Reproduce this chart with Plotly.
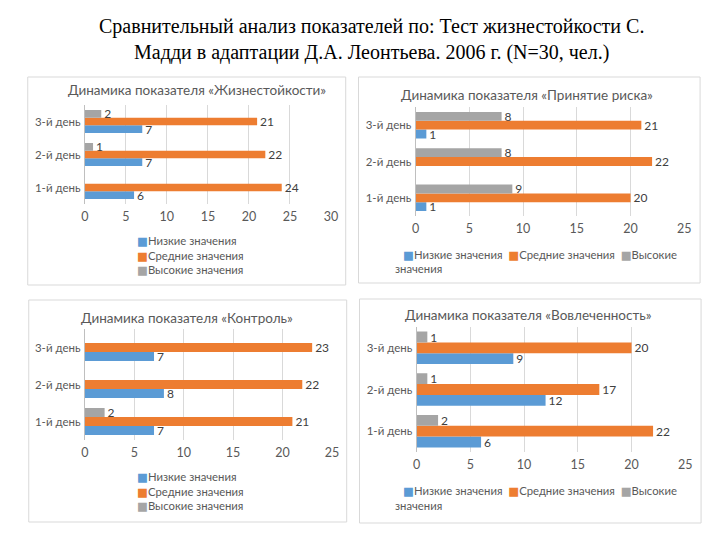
import plotly.graph_objects as go

# ---------------- data ----------------
days = ["1-й день", "2-й день", "3-й день"]
series_names = ["Низкие значения", "Средние значения", "Высокие значения"]

hardiness_low = [6, 7, 7]
hardiness_mid = [24, 22, 21]
hardiness_high = [None, 1, 2]

risk_low = [1, None, 1]
risk_mid = [20, 22, 21]
risk_high = [9, 8, 8]

control_low = [7, 8, 7]
control_mid = [21, 22, 23]
control_high = [2, None, None]

involve_low = [6, 12, 9]
involve_mid = [22, 17, 20]
involve_high = [2, 1, 1]

ticks_30 = [0, 5, 10, 15, 20, 25, 30]
ticks_25 = [0, 5, 10, 15, 20, 25]

main_title = ("Сравнительный анализ показателей по: Тест жизнестойкости С.<br>"
              "Мадди в адаптации Д.А. Леонтьева. 2006 г. (N=30, чел.)")
panel_titles = [
    "Динамика показателя «Жизнестойкости»",
    "Динамика показателя «Принятие риска»",
    "Динамика показателя «Контроль»",
    "Динамика показателя «Вовлеченность»",
]

# ---------------- styling / layout ----------------
# the page body has an 8px margin: the figure is drawn 8px in from the
# window's top-left corner, so pixel positions below are window pixels
OFF = 8
W, H = 720 - 2 * OFF, 540 - 2 * OFF
colors = ["#5B9BD5", "#ED7D31", "#A5A5A5"]
FONT = "Lato, 'Open Sans', sans-serif"
GREY_TXT = "#595959"
NB = "\u00a0"


def fx(p):
    return (p - OFF) / W


def fy(p):
    return 1 - (p - OFF) / H


def swatch(k):
    return (f"<span style='color:{colors[k]};font-size:11.5px;"
            f"font-family:DejaVu Sans'>■</span>")


panels = [
    dict(vals=(hardiness_low, hardiness_mid, hardiness_high), ticks=ticks_30,
         plot=(82, 332, 105, 204), group=0.70, tpos=(196, 90),
         box=(24, 347, 77, 285), leg="v", legpos=(133, 255.5)),
    dict(vals=(risk_low, risk_mid, risk_high), ticks=ticks_25,
         plot=(418, 691, 107, 216), group=0.73, tpos=(531, 95),
         box=(360, 707, 77, 283), leg="h", legpos=(403, 255), wrap=(395, 268.5)),
    dict(vals=(control_low, control_mid, control_high), ticks=ticks_25,
         plot=(82, 333, 329, 440), group=0.73, tpos=(186, 318),
         box=(25, 348, 300, 522), leg="v", legpos=(133, 491)),
    dict(vals=(involve_low, involve_mid, involve_high), ticks=ticks_25,
         plot=(419, 692, 327, 452), group=0.78, tpos=(533, 315),
         box=(361, 708, 299, 523), leg="h", legpos=(403, 491), wrap=(395, 505.5)),
]

fig = go.Figure()
layout = dict(
    width=W, height=H, autosize=False,
    margin=dict(l=0, r=0, t=0, b=0),
    paper_bgcolor="white", plot_bgcolor="white",
    font=dict(family=FONT, color=GREY_TXT, size=11),
    showlegend=False,
    barmode="group",
)
annotations = []
shapes = []

for i, p in enumerate(panels):
    n = i + 1
    xa = "x" if n == 1 else f"x{n}"
    ya = "y" if n == 1 else f"y{n}"
    w = p["group"] / 3
    for k in range(3):
        fig.add_trace(go.Bar(
            y=days, x=p["vals"][k], orientation="h",
            name=series_names[k], marker=dict(color=colors[k], line=dict(width=0)),
            width=w, offset=-1.5 * w + k * w,
            texttemplate="%{x}", textposition="outside",
            constraintext="none", cliponaxis=False,
            textfont=dict(size=12, color="#404040", family=FONT),
            xaxis=xa, yaxis=ya, hoverinfo="x+name",
        ))
    x0, x1, y0, y1 = p["plot"]
    layout["xaxis" if n == 1 else f"xaxis{n}"] = dict(
        domain=[fx(x0), fx(x1)], anchor=ya, range=[0, p["ticks"][-1]],
        tickvals=p["ticks"], showgrid=True, gridcolor="#D9D9D9", gridwidth=1,
        zeroline=False, showline=False, ticks="", ticklabelstandoff=3,
        tickfont=dict(size=12.5, color=GREY_TXT, family=FONT), fixedrange=True,
    )
    layout["yaxis" if n == 1 else f"yaxis{n}"] = dict(
        domain=[fy(y1), fy(y0)], anchor=xa, type="category",
        categoryorder="array", categoryarray=days, range=[-0.5, 2.5],
        showgrid=False, zeroline=False, showline=True, linecolor="#BFBFBF",
        linewidth=1, ticks="", ticklabelstandoff=1,
        tickfont=dict(size=11.5, color=GREY_TXT, family=FONT), fixedrange=True,
    )
    # legend
    lx, ly = p["legpos"]
    if p["leg"] == "v":
        txt = "<br>".join(swatch(k) + series_names[k] for k in range(3))
    else:
        high_first = series_names[2].split(" ")[0]
        parts = [swatch(0) + series_names[0], swatch(1) + series_names[1],
                 swatch(2) + high_first]
        txt = (NB * 2).join(parts)
    annotations.append(dict(
        text=txt, x=fx(lx), y=fy(ly), xref="paper", yref="paper",
        xanchor="left", yanchor="middle", align="left", showarrow=False,
        font=dict(size=11.3, color=GREY_TXT, family=FONT),
    ))
    if p["leg"] == "h":
        annotations.append(dict(
            text=series_names[2].split(" ")[1], x=fx(p["wrap"][0]), y=fy(p["wrap"][1]),
            xref="paper", yref="paper", xanchor="left", yanchor="middle",
            showarrow=False, font=dict(size=11.3, color=GREY_TXT, family=FONT),
        ))
    annotations.append(dict(
        text=panel_titles[i], x=fx(p["tpos"][0]), y=fy(p["tpos"][1]),
        xref="paper", yref="paper", xanchor="center", yanchor="middle",
        showarrow=False, font=dict(size=13.5, color=GREY_TXT, family=FONT),
    ))
    bx0, bx1, by0, by1 = p["box"]
    shapes.append(dict(
        type="rect", xref="paper", yref="paper",
        x0=fx(bx0), x1=fx(bx1), y0=fy(by1), y1=fy(by0),
        line=dict(color="#D9D9D9", width=1), fillcolor="rgba(0,0,0,0)",
        layer="below",
    ))

annotations.append(dict(
    text=main_title, x=fx(373), y=fy(40), xref="paper", yref="paper",
    xanchor="center", yanchor="middle", showarrow=False,
    font=dict(size=20, color="black", family="'Liberation Serif', 'Times New Roman', serif"),
))

layout["annotations"] = annotations
layout["shapes"] = shapes
fig.update_layout(**layout)
fig.write_html("out.html")
